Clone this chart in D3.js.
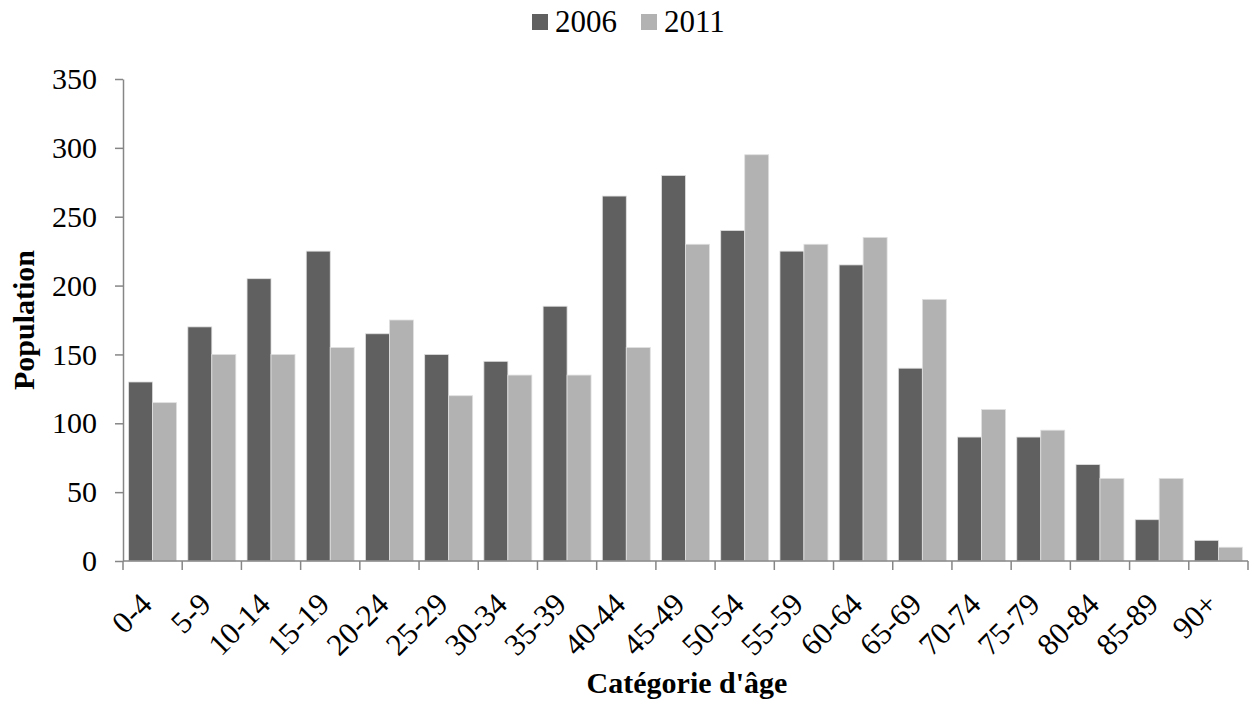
<!DOCTYPE html>
<meta charset="utf-8">
<style>
body { margin: 0; background: #fff; }
text { font-family: "Liberation Serif", "Times New Roman", serif; fill: #000; }
.axis path, .axis line { stroke: #868686; stroke-width: 1.5px; }
.axis text { font-size: 30px; font-family: "Liberation Serif", "Times New Roman", serif; }
.axis text.lbl { font-size: 31px; }
.title { font-size: 30px; font-weight: bold; }
</style>
<svg width="1254" height="704"></svg>
<script src="https://d3js.org/d3.v7.min.js"></script>
<script>

var categories = ["0-4","5-9","10-14","15-19","20-24","25-29","30-34","35-39","40-44","45-49",
                  "50-54","55-59","60-64","65-69","70-74","75-79","80-84","85-89","90+"];
var years = ["2006", "2011"];
var pop2006 = [130,170,205,225,165,150,145,185,265,280,240,225,215,140,90,90,70,30,15];
var pop2011 = [115,150,150,155,175,120,135,135,155,230,295,230,235,190,110,95,60,60,10];
var yTicks = [0,50,100,150,200,250,300,350];

var colors = { "2006": "#606060", "2011": "#b2b2b2" };

var svg = d3.select("svg"),
    plotLeft = 123, plotRight = 1248, plotTop = 79, plotBottom = 561;

var x = d3.scaleBand()
    .domain(categories)
    .range([plotLeft, plotRight])
    .paddingInner(0.19)
    .paddingOuter(0.095);

var x1 = d3.scaleBand()
    .domain(years)
    .range([0, x.bandwidth()]);

var y = d3.scaleLinear()
    .domain([0, 350])
    .range([plotBottom, plotTop]);

var series = [
  { year: "2006", values: pop2006 },
  { year: "2011", values: pop2011 }
];

var g = svg.append("g");

series.forEach(function(s) {
  g.selectAll(".bar-" + s.year)
    .data(s.values)
    .enter().append("rect")
      .attr("class", "bar-" + s.year)
      .attr("x", function(d, i) { return x(categories[i]) + x1(s.year); })
      .attr("y", function(d) { return y(d); })
      .attr("width", x1.bandwidth())
      .attr("height", function(d) { return plotBottom - y(d); })
      .attr("fill", colors[s.year])
      .attr("stroke", "#e0e0e0")
      .attr("stroke-width", 0.8);
});

// y axis
var yAxis = svg.append("g")
    .attr("class", "axis")
    .attr("transform", "translate(" + plotLeft + ",0)")
    .call(d3.axisLeft(y).tickValues(yTicks).tickSize(8).tickSizeOuter(0).tickPadding(18));
yAxis.selectAll("text").attr("fill", "#000");

// x axis with ticks between groups
var xTickPos = categories.map(function(c) { return x(c) - x.step() * x.paddingInner() / 2; });
xTickPos.push(plotRight);
var xAxis = svg.append("g").attr("class", "axis");
xAxis.append("line")
    .attr("x1", plotLeft).attr("x2", plotRight)
    .attr("y1", plotBottom).attr("y2", plotBottom);
xAxis.selectAll(".tick")
    .data(xTickPos)
    .enter().append("line")
      .attr("x1", function(d) { return d; }).attr("x2", function(d) { return d; })
      .attr("y1", plotBottom).attr("y2", plotBottom + 9);
xAxis.selectAll(".lbl")
    .data(categories)
    .enter().append("text")
      .attr("class", "lbl")
      .attr("text-anchor", "end")
      .attr("transform", function(d) {
        return "translate(" + (x(d) + x.bandwidth() / 2 + 1) + "," + (plotBottom + 45) + ") rotate(-45)";
      })
      .text(function(d) { return d; });

// axis titles
svg.append("text")
    .attr("class", "title")
    .attr("text-anchor", "middle")
    .attr("transform", "translate(34," + ((plotTop + plotBottom) / 2) + ") rotate(-90)")
    .text("Population");

svg.append("text")
    .attr("class", "title")
    .attr("text-anchor", "middle")
    .attr("x", 687)
    .attr("y", 693)
    .text("Catégorie d'âge");

// legend
var legend = svg.append("g");
var legendX = [532, 641];
years.forEach(function(yr, i) {
  legend.append("rect")
      .attr("x", legendX[i]).attr("y", 14)
      .attr("width", 16).attr("height", 16)
      .attr("fill", colors[yr]);
  legend.append("text")
      .attr("x", legendX[i] + 23).attr("y", 32)
      .style("font-size", "31px")
      .text(yr);
});

</script>
